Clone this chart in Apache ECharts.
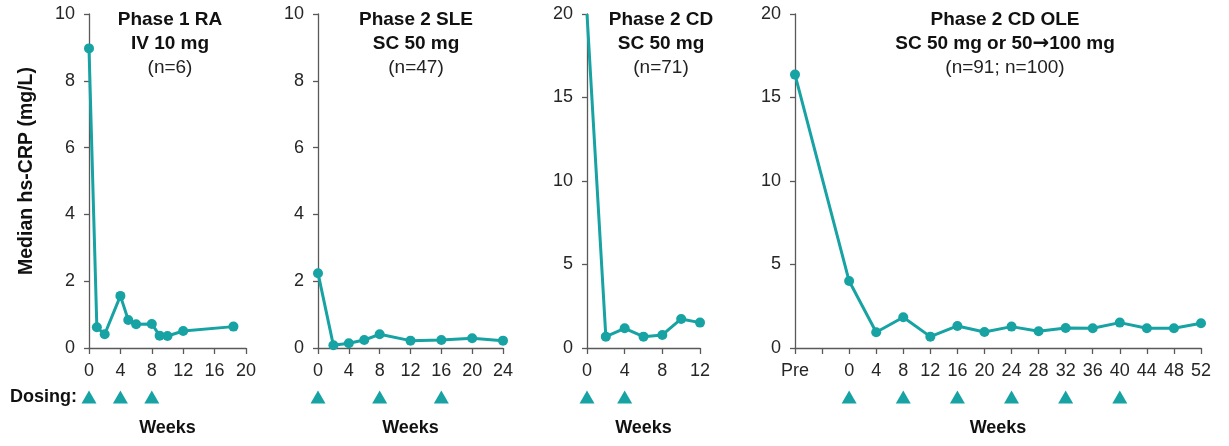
<!DOCTYPE html>
<html>
<head>
<meta charset="utf-8">
<script src="https://cdn.jsdelivr.net/npm/echarts@6/dist/echarts.min.js"></script>
<style>
html,body{margin:0;padding:0;background:#fff;}
#chart{width:1229px;height:446px;}
</style>
</head>
<body>
<div id="chart"></div>
<script>
// ---- data ----
const weeks1 = [0, 1, 2, 4, 5, 6, 8, 9, 10, 12, 18.4];
const crp1   = [8.97, 0.62, 0.41, 1.56, 0.84, 0.71, 0.72, 0.37, 0.36, 0.51, 0.64];
const dose1  = [0, 4, 8];

const weeks2 = [0, 2, 4, 6, 8, 12, 16, 20, 24];
const crp2   = [2.24, 0.08, 0.14, 0.24, 0.41, 0.22, 0.24, 0.29, 0.22];
const dose2  = [0, 8, 16];

const weeks3 = [0, 2, 4, 6, 8, 10, 12];
const crp3   = [20, 0.68, 1.18, 0.68, 0.78, 1.74, 1.52];
const dose3  = [0, 4];

const weeks4 = [-8, 0, 4, 8, 12, 16, 20, 24, 28, 32, 36, 40, 44, 48, 52];
const crp4   = [16.37, 4.01, 0.94, 1.84, 0.68, 1.32, 0.96, 1.28, 1.0, 1.2, 1.18, 1.52, 1.18, 1.18, 1.48];
const dose4  = [0, 8, 16, 24, 32, 40];
const tickLabels4 = {'-8': 'Pre', '-4': ''};

const titles = [
  ['Phase 1 RA', 'IV 10 mg', '(n=6)'],
  ['Phase 2 SLE', 'SC 50 mg', '(n=47)'],
  ['Phase 2 CD', 'SC 50 mg', '(n=71)'],
  ['Phase 2 CD OLE', 'SC 50 mg or 50{a|\u2192}100 mg', '(n=91; n=100)']
];

// ---- layout ----
const TEAL = '#17A2A3';
const AXIS = '#595959';
const FONT = 'Liberation Sans, Arial, sans-serif';
const panels = [
  {left: 89,  width: 157, xmin: 0,  xmax: 20, ymax: 10, yint: 2, weeks: weeks1, crp: crp1, dose: dose1, tc: 170},
  {left: 318, width: 185, xmin: 0,  xmax: 24, ymax: 10, yint: 2, weeks: weeks2, crp: crp2, dose: dose2, tc: 416},
  {left: 587, width: 113, xmin: 0,  xmax: 12, ymax: 20, yint: 5, weeks: weeks3, crp: crp3, dose: dose3, tc: 661},
  {left: 795, width: 406, xmin: -8, xmax: 52, ymax: 20, yint: 5, weeks: weeks4, crp: crp4, dose: dose4, tc: 1005}
];

const grid = [], xAxis = [], yAxis = [], series = [], graphic = [];
panels.forEach((p, i) => {
  grid.push({left: p.left, width: p.width, top: 14, bottom: 98});
  grid.push({left: p.left, width: p.width, top: 390, height: 14});
  xAxis.push({
    type: 'value', gridIndex: 2 * i, min: p.xmin, max: p.xmax, interval: 4,
    axisLine: {onZero: false, lineStyle: {color: AXIS, width: 1.3}},
    axisTick: {length: 6, lineStyle: {color: AXIS, width: 1.3}},
    axisLabel: {
      fontSize: 18, color: '#262626', margin: 14, fontFamily: FONT,
      formatter: v => (i === 3 && tickLabels4[String(v)] !== undefined) ? tickLabels4[String(v)] : String(v)
    },
    splitLine: {show: false},
    name: 'Weeks', nameLocation: 'middle', nameGap: 71,
    nameTextStyle: {fontSize: 18, fontWeight: 'bold', color: '#111', fontFamily: FONT}
  });
  xAxis.push({type: 'value', gridIndex: 2 * i + 1, min: p.xmin, max: p.xmax, show: false});
  yAxis.push({
    type: 'value', gridIndex: 2 * i, min: 0, max: p.ymax, interval: p.yint,
    axisLine: {show: true, onZero: false, lineStyle: {color: AXIS, width: 1.3}},
    axisTick: {show: true, length: 5, lineStyle: {color: AXIS, width: 1.3}},
    axisLabel: {fontSize: 18, color: '#262626', margin: 14, fontFamily: FONT},
    splitLine: {show: false}
  });
  yAxis.push({type: 'value', gridIndex: 2 * i + 1, min: 0, max: 1, show: false});

  const data = p.weeks.map((w, k) => {
    const item = {value: [w, p.crp[k]]};
    if (i === 2 && k === 0) item.symbol = 'none';
    return item;
  });
  series.push({
    type: 'line', xAxisIndex: 2 * i, yAxisIndex: 2 * i, data: data,
    symbol: 'circle', symbolSize: 10, clip: false,
    lineStyle: {color: TEAL, width: 3}, itemStyle: {color: TEAL},
    silent: true, animation: false
  });
  series.push({
    type: 'scatter', xAxisIndex: 2 * i + 1, yAxisIndex: 2 * i + 1,
    data: p.dose.map(d => [d, 0.5]),
    symbol: 'triangle', symbolSize: [15, 13], itemStyle: {color: TEAL, opacity: 1},
    silent: true, animation: false
  });

  graphic.push({
    type: 'text', x: p.tc, y: 8,
    style: {text: titles[i][0] + '\n' + titles[i][1], textAlign: 'center', textVerticalAlign: 'top',
            font: 'bold 19px ' + FONT, lineHeight: 24, fill: '#111',
            rich: {a: {font: 'bold 20px DejaVu Sans', fill: '#111', lineHeight: 24}}}
  });
  graphic.push({
    type: 'text', x: p.tc, y: 56,
    style: {text: titles[i][2], textAlign: 'center', textVerticalAlign: 'top',
            font: '19px ' + FONT, lineHeight: 24, fill: '#222'}
  });
});

graphic.push({
  type: 'text', x: 77, y: 397,
  style: {text: 'Dosing:', textAlign: 'right', textVerticalAlign: 'middle', font: 'bold 18px ' + FONT, fill: '#111'}
});
graphic.push({
  type: 'text', x: 27, y: 171, rotation: Math.PI / 2,
  style: {text: 'Median hs-CRP (mg/L)', textAlign: 'center', textVerticalAlign: 'middle', font: 'bold 19.5px ' + FONT, fill: '#111'}
});

const chart = echarts.init(document.getElementById('chart'), null, {renderer: 'canvas'});
chart.setOption({
  animation: false,
  backgroundColor: '#fff',
  grid, xAxis, yAxis, series, graphic
});
</script>
</body>
</html>
